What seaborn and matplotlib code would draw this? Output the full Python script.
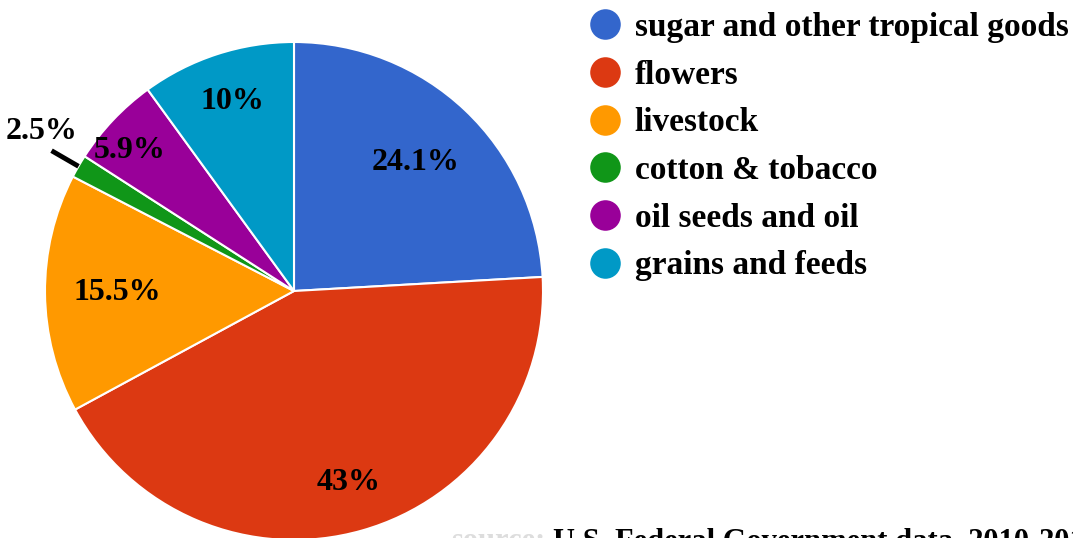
import numpy as np
import matplotlib
matplotlib.use("Agg")
import matplotlib.pyplot as plt
from matplotlib.lines import Line2D
import seaborn as sns

categories = ["sugar and other tropical goods", "flowers", "livestock",
              "cotton & tobacco", "oil seeds and oil", "grains and feeds"]
shares = [24.1, 43.0, 15.5, 1.5, 5.9, 10.0]
share_labels = ["24.1%", "43%", "15.5%", "2.5%", "5.9%", "10%"]
colors = ["#3366CC", "#DC3912", "#FF9900", "#109618", "#990099", "#0099C6"]
source_prefix = "source:"
source_text = "U.S. Federal Government data, 2010-2014"

sns.set_theme(style="white")
plt.rcParams['font.family'] = ['Liberation Serif', 'DejaVu Serif']
plt.rcParams['text.color'] = 'black'
palette = sns.color_palette(colors)

W, H = 1073, 538
fig = plt.figure(figsize=(W / 100, H / 100), dpi=100)
ax = fig.add_axes([0, 0, 1, 1])

cx, cy, r = 294, H - 291, 249
wedges, _ = ax.pie(shares, colors=palette, startangle=90, counterclock=False,
                   center=(cx, cy), radius=r, frame=True,
                   wedgeprops=dict(edgecolor='white', linewidth=1.5))
ax.set_xlim(0, W)
ax.set_ylim(0, H)
ax.set_aspect('equal')
ax.axis('off')

dist = [0.71, 0.80, 0.71, None, 0.87, 0.80]
for w, lab, d in zip(wedges, share_labels, dist):
    ang = np.deg2rad((w.theta1 + w.theta2) / 2)
    if d is None:
        # outside label with leader line
        x0, y0 = cx + r * 1.0 * np.cos(ang), cy + r * 1.0 * np.sin(ang)
        x1, y1 = cx + r * 1.125 * np.cos(ang), cy + r * 1.125 * np.sin(ang)
        ax.plot([x0, x1], [y0, y1], color='black', lw=3.5, solid_capstyle='butt')
        a2 = ang - 0.04
        ax.text(cx + r * 1.2 * np.cos(a2), cy + r * 1.2 * np.sin(a2), lab,
                ha='center', va='center', fontsize=23, fontweight='bold', color='black')
    else:
        if d == 0.87:
            ang += 0.05
        ax.text(cx + r * d * np.cos(ang), cy + r * d * np.sin(ang), lab,
                ha='center', va='center', fontsize=23, fontweight='bold', color='black')

handles = [Line2D([], [], marker='o', ls='', markersize=22, color=c, markeredgewidth=0)
           for c in palette]
leg = ax.legend(handles, categories, loc='upper left',
                bbox_to_anchor=(588 / W, 1 - 12 / H), bbox_transform=fig.transFigure,
                frameon=False, prop=dict(size=24, weight='bold'),
                handlelength=1.0, handletextpad=0.4, labelspacing=0.5,
                borderaxespad=0, borderpad=0)
for t in leg.get_texts():
    t.set_color('black')

ax.text(545, -11, source_prefix, ha='right', va='baseline', fontsize=22,
        fontweight='bold', color='#dddddd', clip_on=True)
ax.text(553, -11, source_text, ha='left', va='baseline', fontsize=22,
        fontweight='bold', color='black', clip_on=True)

fig.savefig("out.png", dpi=100)
